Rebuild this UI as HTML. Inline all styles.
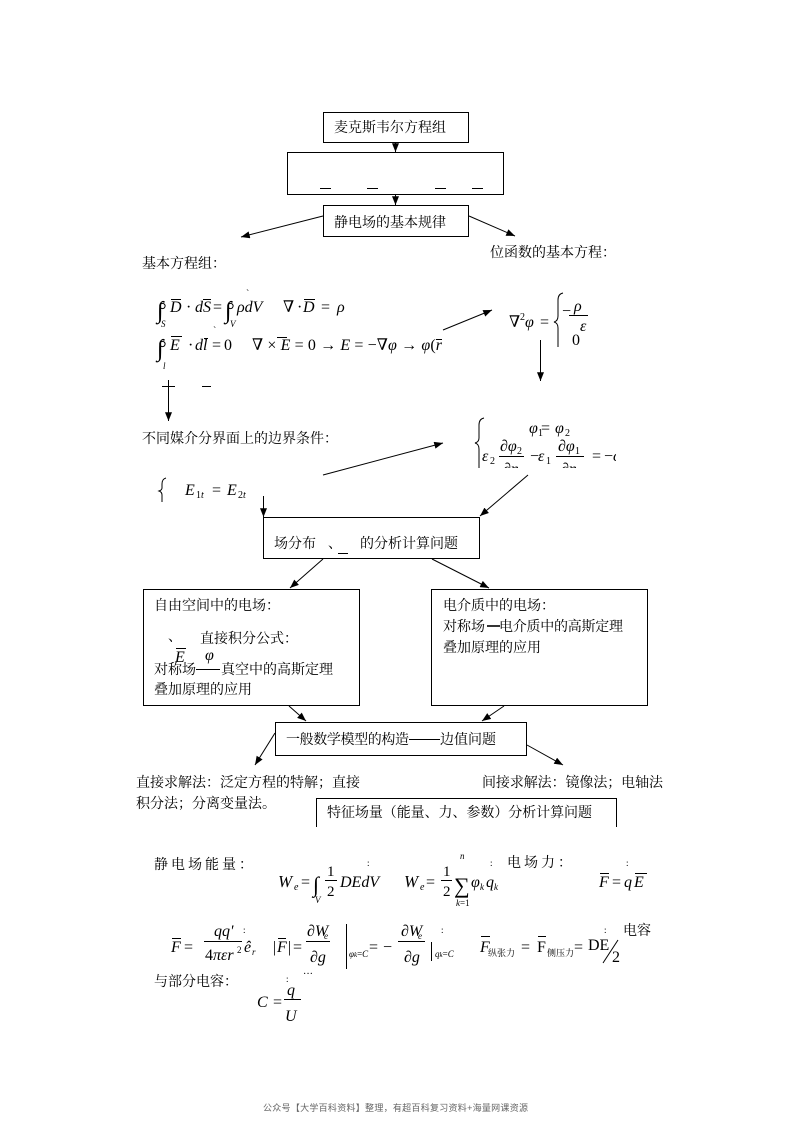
<!DOCTYPE html>
<html><head><meta charset="utf-8">
<style>
html,body{margin:0;padding:0;background:#fff;}
svg{display:block;}
.c{font-family:"Liberation Serif","Noto Serif CJK SC",serif;fill:#000;}
.m{font-family:"Liberation Serif","DejaVu Serif",serif;fill:#000;}
.i{font-style:italic;}
</style></head>
<body>
<svg width="793" height="1122" viewBox="0 0 793 1122" xmlns="http://www.w3.org/2000/svg">
<defs>
<marker id="ah" viewBox="0 0 10 8" refX="10" refY="4" markerWidth="9" markerHeight="7" orient="auto" markerUnits="userSpaceOnUse"><path d="M0,0L10,4L0,8z" fill="#000"/></marker>
<clipPath id="clipR"><rect x="470" y="400" width="146" height="68"/></clipPath>
</defs>
<rect width="793" height="1122" fill="#fff"/>
<g stroke="#000" stroke-width="1" fill="none">
<rect x="323.5" y="112.5" width="145" height="30"/>
<rect x="287.5" y="152.5" width="216" height="42"/>
<rect x="323.5" y="205.5" width="145" height="31"/>
<rect x="263.5" y="517.5" width="216" height="41"/>
<rect x="143.5" y="589.5" width="216" height="116"/>
<rect x="431.5" y="589.5" width="216" height="116"/>
<rect x="275.5" y="722.5" width="251" height="33"/>
<path d="M316.5,827V798.5H616.5V827"/>
<path d="M320,188.5H331M367,188.5H378M435,188.5H446M472,188.5H483"/>
<g marker-end="url(#ah)">
<path d="M395.5,142V152"/>
<path d="M395.5,194V205"/>
<path d="M323,216L241,237"/>
<path d="M469,216L515,236"/>
<path d="M168.5,380V421"/>
<path d="M443,330L492,310"/>
<path d="M540.5,340V381"/>
<path d="M323,475L443,443"/>
<path d="M263.5,496V517"/>
<path d="M528,475L480,516"/>
<path d="M323,559L290,588"/>
<path d="M432,559L489,588"/>
<path d="M289,706L306,721"/>
<path d="M504,706L482,721"/>
<path d="M275,733L255,765"/>
<path d="M527,745L563,765"/>
</g>
<path d="M162,386.5H175M202,386.5H211"/>
<path d="M563,293Q558,294 558,300L558,316Q558,321 554,322Q558,323 558,328L558,347"/>
<path d="M484,418Q479,419 479,425L479,438Q479,442 475,443Q479,444 479,449L479,468"/>
<path d="M166,478Q162,479 162,484L162,488Q162,490 159,491Q162,492 162,495L162,502"/>
<path d="M171,299.5H181M203,299.5H211M304,299.5H315"/>
<path d="M171,336.5H182M204,338.5H208M277,337.5H287M436,339.5H442"/>
<path d="M569,315.5H588"/>
<path d="M176,648.5H186"/>
<path d="M325,880.5H337M441,880.5H452"/>
<path d="M600,873.5H609M635,873.5H647"/>
<path d="M172,938.5H181M204,941.5H242M278,938.5H286M306,941.5H330M398,941.5H425"/>
<path d="M346.5,924V969M431.5,942V961"/>
<path d="M481,936.5H490M538,936.5H546"/>
<path d="M603,963L618,940"/>
<path d="M284,999.5H301"/>
<path d="M338,553.5H348"/>
<path d="M196,669.5H220"/>
<path d="M409,739.5H440"/>
<!-- contour circles on integrals -->
<circle cx="162.5" cy="306" r="2.6"/>
<circle cx="230.5" cy="306" r="2.6"/>
<circle cx="162.5" cy="344" r="2.6"/>
</g>
<path d="M487,626H500" stroke="#000" stroke-width="1.6"/>

<g class="c" font-size="14">
<text x="334" y="132">麦克斯韦尔方程组</text>
<text x="334" y="227">静电场的基本规律</text>
<text x="142" y="268">基本方程组：</text>
<text x="490" y="257">位函数的基本方程：</text>
<text x="142" y="443">不同媒介分界面上的边界条件：</text>
<text x="274" y="548">场分布</text>
<text x="328" y="548">、</text>
<text x="360" y="548">的分析计算问题</text>
<text x="154" y="610">自由空间中的电场：</text>
<text x="168" y="641">、</text>
<text x="200" y="643">直接积分公式：</text>
<text x="154" y="674">对称场</text>
<text x="221" y="674">真空中的高斯定理</text>
<text x="154" y="694">叠加原理的应用</text>
<text x="443" y="610">电介质中的电场：</text>
<text x="443" y="631">对称场</text>
<text x="499" y="631" textLength="124">电介质中的高斯定理</text>
<text x="443" y="652">叠加原理的应用</text>
<text x="286" y="744" textLength="123">一般数学模型的构造</text>
<text x="440" y="744">边值问题</text>
<text x="136" y="787">直接求解法：泛定方程的特解；直接</text>
<text x="136" y="808">积分法；分离变量法。</text>
<text x="482" y="787" textLength="181">间接求解法：镜像法；电轴法</text>
<text x="327" y="817" textLength="265">特征场量（能量、力、参数）分析计算问题</text>
<text x="154" y="869" letter-spacing="3">静电场能量：</text>
<text x="507" y="867" letter-spacing="3">电场力：</text>
<text x="488" y="956" font-size="9">纵张力</text>
<text x="547" y="956" font-size="9">侧压力</text>
<text x="623" y="935">电容</text>
<text x="154" y="986">与部分电容：</text>
</g>

<g class="m" font-size="16">
<!-- row1 -->
<text x="157" y="318" font-size="24">∫</text>
<text class="i" x="161" y="327" font-size="9">S</text>
<text class="i" x="170" y="312">D</text>
<text x="186" y="312">·</text>
<text class="i" x="195" y="312">dS</text>
<text x="213" y="312">=</text>
<text x="225" y="318" font-size="24">∫</text>
<text class="i" x="230" y="327" font-size="9">V</text>
<text class="i" x="237" y="312">ρdV</text>
<text x="246" y="297" font-size="10">`</text>
<text x="283" y="312">∇</text>
<text x="297" y="312">·</text>
<text class="i" x="303" y="312">D</text>
<text x="321" y="312">=</text>
<text class="i" x="337" y="312">ρ</text>
<!-- row2 -->
<text x="157" y="356" font-size="24">∫</text>
<text class="i" x="163" y="369" font-size="9">l</text>
<text class="i" x="170" y="350">E</text>
<text x="188" y="350">·</text>
<text class="i" x="195" y="350">dl</text>
<text x="212" y="350">=</text>
<text x="213" y="334" font-size="10">`</text>
<text x="224" y="350">0</text>
<text x="252" y="350" textLength="190" lengthAdjust="spacing">∇ × <tspan class="i">E</tspan> = 0 → <tspan class="i">E</tspan> = −∇<tspan class="i">φ</tspan> → <tspan class="i">φ</tspan>(<tspan class="i">r</tspan></text>
<!-- laplace -->
<text x="509" y="327">∇</text>
<text x="520" y="320" font-size="10">2</text>
<text class="i" x="525" y="327">φ</text>
<text x="540" y="327">=</text>
<text x="562" y="316">−</text>
<text class="i" x="574" y="311">ρ</text>
<text class="i" x="580" y="331">ε</text>
<text x="572" y="345">0</text>
<!-- boundary right -->
<text class="i" x="529" y="433">φ</text>
<text x="538" y="436" font-size="10">1</text>
<text x="541" y="433">=</text>
<text class="i" x="555" y="433">φ</text>
<text x="565" y="436" font-size="10">2</text>
<g clip-path="url(#clipR)">
<text class="i" x="482" y="461">ε</text>
<text x="490" y="464" font-size="10">2</text>
<text class="i" x="500" y="451">∂φ</text>
<text x="517" y="454" font-size="10">2</text>
<line x1="499" y1="456.5" x2="524" y2="456.5" stroke="#000"/>
<text class="i" x="503" y="474">∂n</text>
<text x="530" y="461">−</text>
<text class="i" x="538" y="461">ε</text>
<text x="546" y="464" font-size="10">1</text>
<text class="i" x="558" y="451">∂φ</text>
<text x="575" y="454" font-size="10">1</text>
<line x1="556" y1="456.5" x2="584" y2="456.5" stroke="#000"/>
<text class="i" x="561" y="474">∂n</text>
<text x="592" y="461">=</text>
<text x="604" y="461">−<tspan class="i">c</tspan></text>
</g>
<!-- E1t = E2t -->
<text class="i" x="185" y="495">E</text>
<text x="196" y="498" font-size="10">1<tspan class="i">t</tspan></text>
<text x="212" y="495">=</text>
<text class="i" x="227" y="495">E</text>
<text x="238" y="498" font-size="10">2<tspan class="i">t</tspan></text>
<!-- box5 symbols -->
<text class="i" x="175" y="662">E</text>
<text class="i" x="205" y="660">φ</text>
<!-- energy -->
<text class="i" x="278" y="887" font-size="17">W</text>
<text class="i" x="294" y="890" font-size="10">e</text>
<text x="301" y="887">=</text>
<text x="313" y="892" font-size="22">∫</text>
<text class="i" x="315" y="903" font-size="9">V</text>
<text x="327" y="876" font-size="15">1</text>
<text x="327" y="896" font-size="15">2</text>
<text class="i" x="340" y="887">DEdV</text>
<text x="367" y="866" font-size="9">:</text>
<text class="i" x="404" y="887" font-size="17">W</text>
<text class="i" x="420" y="890" font-size="10">e</text>
<text x="426" y="887">=</text>
<text x="443" y="876" font-size="15">1</text>
<text x="443" y="896" font-size="15">2</text>
<text x="454" y="893" font-size="22">∑</text>
<text class="i" x="460" y="859" font-size="9">n</text>
<text x="456" y="906" font-size="9"><tspan class="i">k</tspan>=1</text>
<text class="i" x="471" y="887">φ</text>
<text class="i" x="480" y="890" font-size="9">k</text>
<text class="i" x="486" y="887">q</text>
<text class="i" x="494" y="890" font-size="9">k</text>
<text x="490" y="866" font-size="9">:</text>
<text class="i" x="599" y="887">F</text>
<text x="612" y="887">=</text>
<text class="i" x="624" y="887">q</text>
<text class="i" x="634" y="887">E</text>
<text x="626" y="866" font-size="9">:</text>
<!-- forces -->
<text class="i" x="171" y="952">F</text>
<text x="184" y="952">=</text>
<text class="i" x="214" y="936">qq'</text>
<text x="205" y="960">4<tspan class="i">πεr</tspan></text>
<text x="237" y="953" font-size="9">2</text>
<text x="243" y="933" font-size="9">:</text>
<text class="i" x="244" y="952">ê</text>
<text class="i" x="252" y="955" font-size="9">r</text>
<text x="273" y="952">|</text>
<text class="i" x="277" y="952">F</text>
<text x="288" y="952">|</text>
<text x="293" y="952">=</text>
<text class="i" x="307" y="936">∂W</text>
<text class="i" x="324" y="939" font-size="9">e</text>
<text class="i" x="310" y="962">∂g</text>
<text x="349" y="957" font-size="9"><tspan class="i">φ</tspan><tspan font-size="7" class="i">k</tspan>=<tspan class="i">C</tspan></text>
<text x="369" y="952">=</text>
<text x="383" y="952">−</text>
<text class="i" x="401" y="936">∂W</text>
<text class="i" x="418" y="939" font-size="9">e</text>
<text class="i" x="404" y="962">∂g</text>
<text x="435" y="957" font-size="9"><tspan class="i">q</tspan><tspan font-size="7" class="i">k</tspan>=<tspan class="i">C</tspan></text>
<text x="441" y="933" font-size="9">:</text>
<text class="i" x="480" y="952">F</text>
<text x="521" y="952">=</text>
<text x="537" y="952">F</text>
<text x="574" y="952">=</text>
<text x="588" y="950">DE</text>
<text x="612" y="962">2</text>
<text x="604" y="933" font-size="9">:</text>
<!-- capacitance -->
<text class="i" x="257" y="1007">C</text>
<text x="273" y="1007">=</text>
<text class="i" x="287" y="995">q</text>
<text class="i" x="285" y="1021">U</text>
<text x="286" y="982" font-size="9">:</text>
<text x="303" y="977" font-size="10">···</text>
</g>

<text x="263" y="1111" font-family="'Liberation Sans','Noto Sans CJK SC',sans-serif" font-size="9" fill="#666" textLength="265">公众号【大学百科资料】整理，有超百科复习资料+海量网课资源</text>
</svg>
</body></html>
